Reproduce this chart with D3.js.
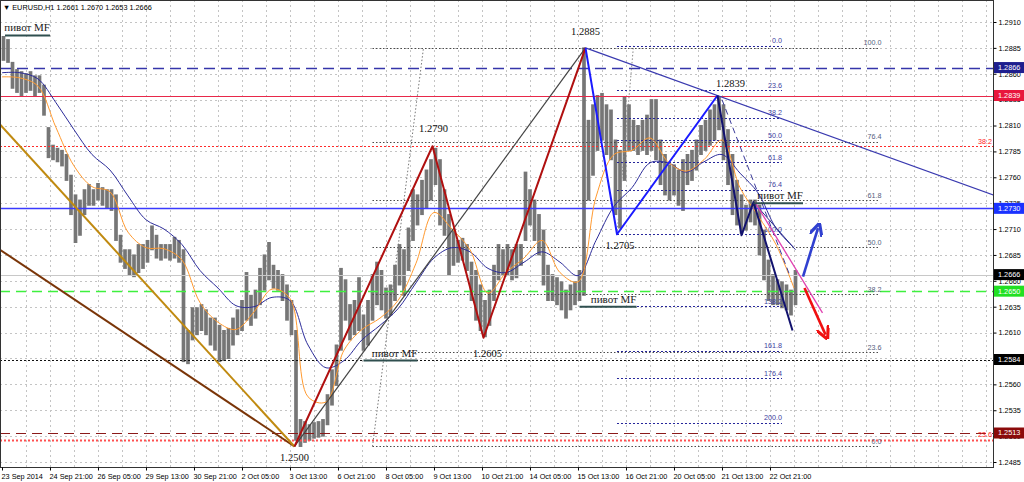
<!DOCTYPE html>
<html><head><meta charset="utf-8">
<script src="https://cdn.jsdelivr.net/npm/d3@7"></script>
<style>body{margin:0;background:#fff;}svg{display:block;}</style>
</head><body><svg id="c" width="1024" height="482"></svg>
<script>
// ---------------- DATA ----------------
const headerText = "EURUSD,H1  1.2661 1.2670 1.2653 1.2666";
const barStep = 3;   // hours per drawn bar
const highs = [1.2896,1.2893,1.2871,1.2864,1.2862,1.2860,1.2862,1.2858,1.2858,1.2849,
1.2808,1.2791,1.2788,1.2786,1.2782,1.2762,1.2743,1.2738,1.2748,1.2753,
1.2748,1.2754,1.2750,1.2748,1.2748,1.2743,1.2704,1.2690,1.2690,1.2685,
1.2695,1.2695,1.2699,1.2713,1.2704,1.2695,1.2695,1.2695,1.2702,1.2699,
1.2690,1.2612,1.2634,1.2634,1.2637,1.2632,1.2624,1.2624,1.2617,1.2612,
1.2614,1.2624,1.2632,1.2641,1.2668,1.2646,1.2651,1.2672,1.2685,1.2697,
1.2675,1.2670,1.2666,1.2656,1.2641,1.2612,1.2526,1.2524,1.2521,1.2523,
1.2524,1.2526,1.2550,1.2574,1.2598,1.2672,1.2661,1.2637,1.2641,1.2663,
1.2627,1.2641,1.2666,1.2678,1.2670,1.2653,1.2656,1.2675,1.2695,1.2690,
1.2711,1.2748,1.2743,1.2757,1.2767,1.2777,1.2788,1.2777,1.2748,1.2724,
1.2709,1.2699,1.2701,1.2695,1.2678,1.2670,1.2656,1.2641,1.2651,1.2675,
1.2695,1.2690,1.2695,1.2690,1.2695,1.2695,1.2765,1.2748,1.2738,1.2724,
1.2709,1.2675,1.2666,1.2663,1.2659,1.2651,1.2656,1.2659,1.2670,1.2885,
1.2815,1.2830,1.2839,1.2841,1.2830,1.2825,1.2796,1.2786,1.2838,1.2830,
1.2815,1.2810,1.2815,1.2820,1.2835,1.2835,1.2796,1.2782,1.2772,1.2772,
1.2767,1.2777,1.2782,1.2786,1.2796,1.2810,1.2815,1.2825,1.2830,1.2838,
1.2830,1.2806,1.2782,1.2757,1.2743,1.2733,1.2738,1.2738,1.2733,1.2709,
1.2680,1.2666,1.2661,1.2659,1.2656,1.2651,1.2670];
const lows = [1.2873,1.2871,1.2846,1.2842,1.2839,1.2842,1.2844,1.2839,1.2842,1.2820,
1.2779,1.2777,1.2775,1.2771,1.2757,1.2724,1.2697,1.2704,1.2724,1.2733,
1.2733,1.2738,1.2733,1.2730,1.2728,1.2699,1.2678,1.2672,1.2666,1.2664,
1.2668,1.2672,1.2678,1.2690,1.2682,1.2680,1.2682,1.2680,1.2682,1.2678,
1.2582,1.2580,1.2603,1.2608,1.2612,1.2608,1.2598,1.2593,1.2582,1.2583,
1.2585,1.2598,1.2608,1.2612,1.2622,1.2617,1.2624,1.2637,1.2651,1.2661,
1.2653,1.2651,1.2641,1.2622,1.2608,1.2506,1.2500,1.2504,1.2506,1.2508,
1.2509,1.2510,1.2521,1.2540,1.2559,1.2593,1.2622,1.2603,1.2608,1.2612,
1.2593,1.2598,1.2622,1.2637,1.2632,1.2624,1.2627,1.2641,1.2656,1.2646,
1.2670,1.2699,1.2714,1.2724,1.2730,1.2738,1.2753,1.2714,1.2704,1.2666,
1.2675,1.2678,1.2680,1.2670,1.2641,1.2622,1.2612,1.2606,1.2617,1.2641,
1.2661,1.2666,1.2666,1.2661,1.2663,1.2675,1.2699,1.2714,1.2699,1.2685,
1.2656,1.2641,1.2641,1.2637,1.2632,1.2624,1.2632,1.2637,1.2641,1.2646,
1.2738,1.2762,1.2786,1.2796,1.2782,1.2777,1.2724,1.2711,1.2757,1.2786,
1.2786,1.2782,1.2786,1.2782,1.2786,1.2777,1.2753,1.2743,1.2738,1.2743,
1.2733,1.2728,1.2753,1.2757,1.2767,1.2782,1.2786,1.2791,1.2796,1.2806,
1.2777,1.2753,1.2724,1.2714,1.2706,1.2709,1.2717,1.2714,1.2685,1.2661,
1.2641,1.2637,1.2637,1.2634,1.2632,1.2627,1.2637];
const maStep = 12;   // hours between MA samples
const maFast = [1.2857,1.2856,1.2848,1.2808,1.2771,1.2751,1.2746,1.2707,1.2692,1.2691,
1.2680,1.2639,1.2620,1.2613,1.2630,1.2652,1.2643,1.2548,1.2543,1.2593,
1.2613,1.2624,1.2641,1.2677,1.2726,1.2710,1.2690,1.2648,1.2668,1.2682,
1.2699,1.2668,1.2659,1.2741,1.2782,1.2786,1.2798,1.2775,1.2766,1.2777,
1.2796,1.2750,1.2723,1.2695,1.2653];
const maSlow = [1.2861,1.2861,1.2855,1.2832,1.2806,1.2782,1.2767,1.2742,1.2719,1.2710,
1.2695,1.2670,1.2653,1.2636,1.2635,1.2644,1.2641,1.2598,1.2576,1.2583,
1.2603,1.2617,1.2633,1.2658,1.2682,1.2692,1.2688,1.2672,1.2668,1.2678,
1.2688,1.2678,1.2665,1.2699,1.2732,1.2750,1.2774,1.2774,1.2765,1.2775,
1.2782,1.2764,1.2745,1.2711,1.2692];
const priceTicks = [1.2910,1.2885,1.2860,1.2835,1.2810,1.2785,1.2760,1.2735,1.2710,
1.2685,1.2660,1.2635,1.2610,1.2585,1.2560,1.2535,1.2510,1.2485];
const dateLabels = ["23 Sep 2014","24 Sep 21:00","26 Sep 05:00","29 Sep 13:00","30 Sep 21:00",
"2 Oct 05:00","3 Oct 13:00","6 Oct 21:00","8 Oct 05:00","9 Oct 13:00","10 Oct 21:00",
"14 Oct 05:00","15 Oct 13:00","16 Oct 21:00","20 Oct 05:00","21 Oct 13:00","22 Oct 21:00"];
const dateEvery = 32;
const markerPrices = [1.2866,1.2839,1.2730,1.2666,1.2650,1.2584,1.2513];
const markerColors = ["#1e1e8e","#e8163c","#1a32ff","#000000","#22e022","#000000","#8b0a0a"];
const hLevels = [1.2866,1.2839,1.2790,1.2730,1.2666,1.2650,1.2584,1.2513,1.25065];
const fibLevels1 = [0,23.6,38.2,50,61.8,76.4,100];
const fib1 = {i0:247, i1:281, low:1.2500, high:1.2885, end:585};
const fibLevels2 = [0,23.6,38.2,50,61.8,76.4,100,138.2,161.8,176.4,200];
const fib2 = {i0:410, i1:421, zero:1.2887, hundred:1.2705, end:520};
const zzGold = [[-1.33,1.2811],[195,1.2500]];
const zzBrown = [[-1.33,1.2690],[195,1.2500]];
const zzRed = [[195,1.2500],[287,1.2790],[321,1.2605],[389,1.2885]];
const zzGray = [[195,1.2500],[389,1.2885]];
const zzBlue = [[389,1.2885],[410,1.2705],[477,1.2839]];
const zzNavy = [[477,1.2839],[493,1.2704],[501,1.2736],[527,1.2612]];
const trendTop = [[389,1.2885],[477,1.2839]];
const pinkLine = [[502,1.2736],[547,1.2629]];
const thinNavy = [[501,1.2736],[529,1.2690]];
const dashNavy = [[480,1.2835],[525,1.2666]];
const arrowUp = [[534,1.2664],[544,1.2711]];
const arrowDown = [[535,1.2653],[549,1.2608]];
const pivots = [[2,32,1.2897],[241,277,1.2583],[385,423,1.2635],[501,534,1.2735]];
const pointLabels = [["1.2500",195,1.2500],["1.2790",287,1.2790],["1.2605",321,1.2605],
["1.2885",389,1.2885],["1.2705",410,1.2705],["1.2839",477,1.2839]];

// ---------------- DRAW ----------------
const PR = 993, PB = 467;
const x = d3.scaleLinear().domain([0, 660.667]).range([2, PR]);
const y = d3.scaleLinear().domain([1.2485, 1.2910]).range([462, 22]);
const svg = d3.select("#c");
svg.append("rect").attr("width",1024).attr("height",482).attr("fill","#fff");
svg.append("defs").html(
 '<clipPath id="clip"><rect x="0" y="0" width="'+PR+'" height="'+PB+'"/></clipPath>'+
 '<marker id="ahB" viewBox="0 0 10 10" refX="6" refY="5" markerWidth="5" markerHeight="5" orient="auto"><path d="M0,0L10,5L0,10" fill="none" stroke="#3040d0" stroke-width="2.4"/></marker>'+
 '<marker id="ahR" viewBox="0 0 10 10" refX="6" refY="5" markerWidth="5" markerHeight="5" orient="auto"><path d="M0,0L10,5L0,10" fill="none" stroke="#f01010" stroke-width="2.4"/></marker>');
const plot = svg.append("g").attr("clip-path","url(#clip)");
const Y = p => Math.round(y(p)) + 0.5;

// grid
plot.selectAll(".hg").data(priceTicks).join("line")
  .attr("x1",0).attr("x2",PR).attr("y1",Y).attr("y2",Y)
  .attr("stroke","#c4c4c4").attr("stroke-dasharray","2,3");
plot.selectAll(".vg").data(d3.range(16, 661, 16)).join("line")
  .attr("x1",d=>Math.round(x(d))+0.5).attr("x2",d=>Math.round(x(d))+0.5).attr("y1",0).attr("y2",PB)
  .attr("stroke","#c4c4c4").attr("stroke-dasharray","2,3");

// price bars
plot.selectAll(".bar").data(highs).join("line")
  .attr("x1",(d,k)=>x(k*barStep+1)).attr("x2",(d,k)=>x(k*barStep+1))
  .attr("y1",d=>y(d)-0.5).attr("y2",(d,k)=>y(lows[k])+0.5)
  .attr("stroke","#767676").attr("stroke-width",3.7);

// horizontal levels
const hStyles = [
 {c:"#3535aa",w:1.5,da:"11,6"},{c:"#e8284a",w:1.2,da:null},{c:"#ff2a2a",w:1.2,da:"2,2"},
 {c:"#3a3aff",w:1.5,da:null},{c:"#c8c8c8",w:1,da:null},{c:"#3ef03e",w:1.6,da:"10,6"},
 {c:"#111",w:1.2,da:"2,2"},{c:"#8b1a1a",w:1.2,da:"10,6"},{c:"#ff5050",w:1.8,da:"2,2"}];
hLevels.forEach((p,k)=>{
  const s = hStyles[k];
  plot.append("line").attr("x1",0).attr("x2",PR).attr("y1",Y(p)).attr("y2",Y(p))
    .attr("stroke",s.c).attr("stroke-width",s.w).attr("stroke-dasharray",s.da);
});

const line = d3.line().x(d=>x(d[0])).y(d=>y(d[1]));
const small = "'Liberation Sans', Arial, sans-serif";

// fib 1 (gray)
fibLevels1.forEach(l=>{
  const p = fib1.low + (fib1.high-fib1.low)*l/100;
  plot.append("line").attr("x1",x(fib1.i0)).attr("x2",x(fib1.end)).attr("y1",Y(p)).attr("y2",Y(p))
    .attr("stroke","#4a4a4a").attr("stroke-dasharray","1.5,2");
  plot.append("text").attr("x",x(fib1.end)+2).attr("y",y(p)-2.5).attr("text-anchor","end")
    .attr("font-family",small).attr("font-size",7.2).attr("fill","#55607e").text(l.toFixed(1));
});
plot.append("path").attr("d",line([[fib1.i0,fib1.low],[fib1.i1,fib1.high]]))
  .attr("fill","none").attr("stroke","#777").attr("stroke-dasharray","1.5,2");
// fib 2 (navy)
fibLevels2.forEach(l=>{
  const p = fib2.zero + (fib2.hundred-fib2.zero)*l/100;
  plot.append("line").attr("x1",x(fib2.i0)).attr("x2",x(fib2.end)).attr("y1",Y(p)).attr("y2",Y(p))
    .attr("stroke","#25259a").attr("stroke-dasharray","2,2");
  plot.append("text").attr("x",x(fib2.end)).attr("y",y(p)-2.5).attr("text-anchor","end")
    .attr("font-family",small).attr("font-size",7.2).attr("fill","#4040a0").text(l.toFixed(1));
});
plot.append("path").attr("d",line([[fib2.i0,fib2.hundred],[fib2.i1,fib2.zero]]))
  .attr("fill","none").attr("stroke","#888").attr("stroke-dasharray","1.5,2");
// red fib labels
[[1.2790,"38.2"],[1.25065,"23.6"]].forEach(([p,t])=>{
  plot.append("text").attr("x",PR-1).attr("y",y(p)-2.5).attr("text-anchor","end")
    .attr("font-family",small).attr("font-size",7.2).attr("fill","#ff2020").text(t);
});

// moving averages
const maLine = d3.line().x((d,m)=>x(m*maStep)).y(d=>y(d)).curve(d3.curveCatmullRom);
plot.append("path").attr("d",maLine(maSlow)).attr("fill","none").attr("stroke","#2c2c9a").attr("stroke-width",1);
plot.append("path").attr("d",maLine(maFast)).attr("fill","none").attr("stroke","#ff9a30").attr("stroke-width",1);

// zigzags and trend lines
const drawL = (pts,c,w,da,marker)=>{
  const p = plot.append("path").attr("d",line(pts)).attr("fill","none").attr("stroke",c)
    .attr("stroke-width",w).attr("stroke-dasharray",da||null).attr("stroke-linejoin","round");
  if (marker) p.attr("marker-end","url(#"+marker+")");
};
drawL(zzBrown,"#7a3508",2);
drawL(zzGold,"#c08a10",2);
drawL(zzGray,"#444",1.2);
drawL(zzRed,"#b01010",2);
const tSlope = (trendTop[1][1]-trendTop[0][1])/(trendTop[1][0]-trendTop[0][0]);
drawL([trendTop[0],[661,trendTop[0][1]+tSlope*(661-trendTop[0][0])]],"#3a3ab0",1.2);
drawL(zzBlue,"#1a1aff",2);
drawL(dashNavy,"#3a3a9a",1,"6,4");
drawL(thinNavy,"#2c2c8a",1);
drawL(pinkLine,"#e040b0",1.3);
drawL(zzNavy,"#12126e",2);
drawL(arrowUp,"#3040d0",2.6,null,"ahB");
drawL(arrowDown,"#f01010",2.6,null,"ahR");

// pivot MF labels
const serif = "'Liberation Serif', 'Times New Roman', serif";
pivots.forEach(([i0,i1,p])=>{
  plot.append("line").attr("x1",x(i0)).attr("x2",x(i1)).attr("y1",y(p)).attr("y2",y(p))
    .attr("stroke","#2f4f4f").attr("stroke-width",2);
  plot.append("text").attr("x",x(i1)).attr("y",y(p)-4).attr("text-anchor","end")
    .attr("font-family",serif).attr("font-size",11).attr("fill","#1a1a1a").text("пивот MF");
});
// point labels
const lblOff = {"1.2500":[0,15],"1.2790":[1,-14],"1.2605":[4,19],"1.2885":[0,-13],"1.2705":[3,15],"1.2839":[13,-9]};
pointLabels.forEach(([t,i,p])=>{
  const o = lblOff[t];
  plot.append("text").attr("x",x(i)+o[0]).attr("y",y(p)+o[1]).attr("text-anchor","middle")
    .attr("font-family",serif).attr("font-size",10.5).attr("fill","#111").text(t);
});

// header
svg.append("text").attr("x",3).attr("y",9.5).attr("font-family",small).attr("font-size",7.3)
  .attr("fill","#000").text("\u25BC " + headerText);

// frame + axes
svg.append("rect").attr("x",0.5).attr("y",0.5).attr("width",PR).attr("height",PB)
  .attr("fill","none").attr("stroke","#333");
const ay = svg.append("g").attr("transform","translate("+(PR+0.5)+",0)")
  .call(d3.axisRight(y).tickValues(priceTicks).tickFormat(d3.format(".4f")).tickSize(3).tickPadding(2));
ay.select(".domain").remove();
ay.selectAll("text").attr("font-family",small).attr("font-size",7.3).attr("fill","#000");
ay.selectAll("line").attr("stroke","#000");
const ax = svg.append("g").attr("transform","translate(0,"+(PB+0.5)+")")
  .call(d3.axisBottom(x).tickValues(dateLabels.map((d,k)=>k*dateEvery)).tickFormat((d,k)=>dateLabels[k]).tickSize(3).tickPadding(3));
ax.select(".domain").remove();
ax.selectAll("text").attr("font-family",small).attr("font-size",7.3).attr("fill","#000")
  .attr("text-anchor","start").attr("dx",-1);
ax.selectAll("line").attr("stroke","#000");

// price markers on right axis
markerPrices.forEach((p,k)=>{
  const g = svg.append("g");
  g.append("rect").attr("x",PR+1).attr("y",y(p)-5.5).attr("width",31).attr("height",11).attr("fill",markerColors[k]);
  g.append("text").attr("x",PR+5).attr("y",y(p)).attr("dy","0.34em").attr("font-family",small)
    .attr("font-size",7.3).attr("fill","#fff").text(p.toFixed(4));
});
</script></body></html>
